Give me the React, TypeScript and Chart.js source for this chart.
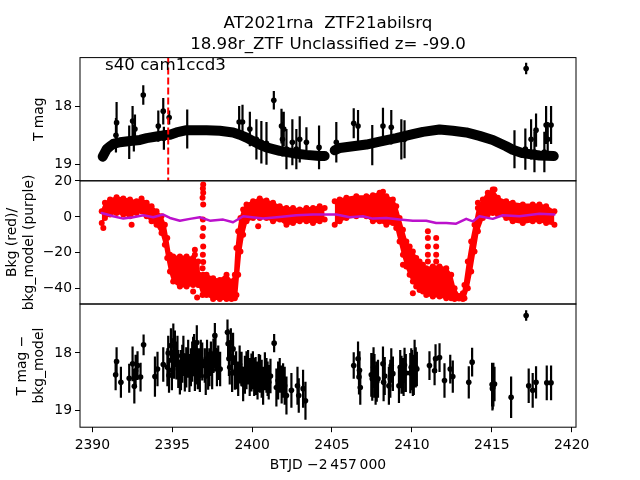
import React, { useEffect, useRef } from "react";
import { Chart, registerables } from "chart.js";

Chart.register(...registerables);

// ---------------- text ----------------
const titleLines = ["AT2021rna  ZTF21abilsrq", "18.98r_ZTF Unclassified z= -99.0"];
const sectorLabel = "s40 cam1ccd3";
const xLabel = "BTJD \u22122\u2009457\u2009000";
const yLabel1 = ["T mag"];
const yLabel2 = ["Bkg (red)/", "bkg_model (purple)"];
const yLabel3 = ["T mag \u2212", "bkg_model"];

// ---------------- axes ----------------
const xTicks = [2390, 2395, 2400, 2405, 2410, 2415, 2420];
const magTicks = [18, 19];
const bkgTicks = [20, 0, -20, -40];
const X_RANGE = [2389.23, 2420.27];
const MAG_RANGE = [17.15, 19.29];
const BKG_RANGE = [-48.5, 20.1];
const markerX = 2394.75;

// ---------------- panel 1: light curve ----------------
const band1X = [2390.65, 2390.90, 2391.11, 2391.31, 2391.73, 2392.36, 2392.98, 2393.40, 2394.02, 2394.44, 2394.86, 2395.27, 2395.90, 2396.52, 2397.15, 2397.98, 2398.81, 2399.23, 2399.65, 2400.06, 2400.48, 2400.90, 2401.31, 2401.73, 2402.56, 2403.40, 2404.23, 2404.54];
const band1Mag = [18.87, 18.74, 18.69, 18.65, 18.62, 18.60, 18.58, 18.55, 18.52, 18.50, 18.49, 18.45, 18.41, 18.41, 18.41, 18.42, 18.45, 18.49, 18.54, 18.60, 18.66, 18.71, 18.74, 18.77, 18.81, 18.84, 18.86, 18.86];
const band2X = [2405.17, 2405.48, 2406.31, 2407.15, 2407.98, 2409.02, 2410.06, 2410.69, 2411.73, 2412.56, 2413.40, 2414.23, 2415.06, 2415.90, 2416.31, 2416.94, 2417.98, 2418.88];
const band2Mag = [18.76, 18.72, 18.69, 18.66, 18.61, 18.55, 18.48, 18.44, 18.40, 18.42, 18.45, 18.51, 18.58, 18.69, 18.75, 18.81, 18.85, 18.86];

const p1X = [2391.48, 2391.52, 2392.31, 2392.52, 2392.60, 2392.67, 2393.19, 2394.13, 2394.44, 2394.48, 2394.81, 2395.94, 2399.19, 2399.40, 2399.86, 2400.27, 2400.58, 2400.90, 2401.36, 2401.84, 2401.90, 2401.98, 2402.15, 2402.52, 2402.77, 2402.98, 2403.40, 2404.19, 2405.27, 2406.36, 2406.63, 2407.52, 2408.19, 2408.71, 2409.34, 2409.54, 2416.42, 2417.10, 2417.15, 2417.46, 2417.67, 2417.77, 2418.29, 2418.40, 2418.50, 2418.71];
const p1Mag = [18.50, 18.28, 18.62, 18.25, 18.55, 18.39, 17.80, 18.34, 18.08, 18.55, 18.19, 18.39, 18.27, 18.27, 18.39, 18.57, 18.62, 18.64, 17.89, 18.34, 18.57, 18.39, 18.74, 18.62, 18.74, 18.57, 18.62, 18.71, 18.62, 18.29, 18.34, 18.67, 18.34, 18.36, 18.57, 18.57, 18.74, 18.74, 17.34, 18.57, 18.79, 18.41, 18.79, 18.32, 18.57, 18.32];
const p1Err = [0.30, 0.36, 0.29, 0.26, 0.23, 0.25, 0.17, 0.27, 0.23, 0.20, 0.12, 0.34, 0.28, 0.30, 0.30, 0.35, 0.37, 0.37, 0.16, 0.30, 0.30, 0.30, 0.35, 0.40, 0.35, 0.40, 0.26, 0.38, 0.35, 0.26, 0.28, 0.35, 0.32, 0.30, 0.35, 0.33, 0.33, 0.36, 0.10, 0.35, 0.35, 0.29, 0.35, 0.33, 0.30, 0.33];

// ---------------- panel 2: background ----------------
const env1X = [2390.59, 2390.79, 2391.11, 2391.52, 2391.94, 2392.36, 2392.77, 2393.08, 2393.40, 2393.71, 2394.02, 2394.33, 2394.54, 2394.69, 2394.86, 2395.06, 2395.48, 2395.90, 2396.31, 2396.63, 2396.69, 2396.90, 2397.15, 2397.56, 2397.98, 2398.40, 2398.71, 2398.92, 2399.02, 2399.13, 2399.27, 2399.44, 2399.65, 2400.06, 2400.48, 2400.90, 2401.31, 2401.73, 2402.15, 2402.56, 2402.98, 2403.40, 2403.81, 2404.23, 2404.54];
const env1Hi = [3.15, 7.81, 9.68, 10.98, 10.23, 9.68, 8.74, 10.23, 7.81, 5.95, 3.15, 0.35, -4.31, -11.76, -21.08, -22.02, -22.02, -22.02, -22.95, -24.81, -32.27, -34.14, -32.27, -34.14, -35.07, -32.27, -36.0, -32.27, -17.35, -8.04, -0.58, 4.08, 6.88, 8.74, 10.23, 9.12, 7.81, 5.95, 5.02, 5.02, 4.08, 5.02, 5.02, 5.95, 5.02];
const env1Lo = [-3.37, -0.58, 1.29, 2.22, 1.29, 0.35, 2.22, 3.15, 0.35, -2.44, -4.31, -8.97, -15.49, -22.95, -30.41, -36.0, -38.8, -38.8, -37.86, -37.86, -37.86, -43.46, -43.46, -45.69, -45.69, -45.69, -45.69, -45.32, -43.46, -32.27, -19.22, -9.9, -2.44, -0.58, -0.58, -0.58, -2.44, -1.51, -4.31, -3.37, -2.44, -2.44, -3.37, -2.44, -1.51];
const env2X = [2405.17, 2405.48, 2405.90, 2406.52, 2407.15, 2407.56, 2407.98, 2408.40, 2408.81, 2409.02, 2409.23, 2409.44, 2409.65, 2409.86, 2410.06, 2410.27, 2410.48, 2410.69, 2410.90, 2411.31, 2411.73, 2412.15, 2412.46, 2412.67, 2412.95, 2413.19, 2413.29, 2413.50, 2413.71, 2413.92, 2414.13, 2414.44, 2414.75, 2415.06, 2415.38, 2415.90, 2416.31, 2416.94, 2417.56, 2417.98, 2418.40, 2418.92];
const env2Hi = [8.74, 9.68, 10.61, 11.54, 11.54, 12.1, 13.41, 11.54, 9.68, 5.95, -0.58, -7.1, -13.63, -16.42, -19.22, -22.95, -24.81, -26.68, -28.54, -27.61, -27.61, -28.54, -32.27, -39.73, -44.0, -42.52, -37.86, -24.81, -13.63, -4.31, 5.02, 9.68, 13.41, 15.27, 10.61, 8.74, 7.81, 6.88, 6.88, 6.88, 5.95, 3.15];
const env2Lo = [-4.31, -2.44, -0.58, 0.35, 0.35, -2.44, -2.44, -4.31, -3.37, -6.17, -13.63, -21.08, -27.61, -32.27, -36.0, -38.8, -40.66, -41.59, -43.46, -44.39, -44.39, -45.32, -45.32, -45.69, -45.5, -45.69, -45.32, -39.73, -30.41, -19.22, -8.04, -0.58, 1.29, 2.22, 1.29, -0.58, -2.44, -3.37, -2.44, -2.44, -3.37, -4.31];
const redX = [2390.69, 2392.46, 2396.31, 2396.42, 2396.42, 2396.56, 2396.94, 2396.92, 2396.94, 2396.90, 2396.94, 2396.92, 2396.94, 2396.90, 2396.94, 2396.92, 2396.94, 2396.90, 2396.94, 2400.38, 2408.19, 2409.44, 2410.06, 2411.00, 2411.00, 2411.00, 2411.00, 2411.00, 2411.52, 2411.52, 2411.52, 2411.52, 2414.13, 2415.17];
const redV = [-6.17, -4.31, -41.59, -18.29, -21.08, -44.95, 18.06, 15.83, 13.41, 10.61, 6.88, -1.51, -6.17, -10.83, -16.42, -21.08, -25.18, -28.54, -32.27, -5.24, 14.0, -26.68, -42.52, -8.04, -11.76, -16.42, -21.08, -24.81, -11.76, -16.42, -21.08, -24.81, 7.81, 15.27];
const purpX = [2390.59, 2391.31, 2391.94, 2392.56, 2393.19, 2393.81, 2394.44, 2394.86, 2395.48, 2396.11, 2396.73, 2397.36, 2398.19, 2398.81, 2399.44, 2400.69, 2401.73, 2402.77, 2403.81, 2404.54, 2405.27, 2406.11, 2406.94, 2407.56, 2408.40, 2409.23, 2410.06, 2410.90, 2411.52, 2412.15, 2412.77, 2413.40, 2413.81, 2414.23, 2415.06, 2415.69, 2416.73, 2417.98, 2418.92];
const purpV = [2.2, 0.35, -0.95, -0.2, 0.9, -0.2, 1.3, -0.6, -2.1, -1.1, -0.2, -2.1, -1.5, -3.0, 0.35, -0.95, 0.0, 0.9, 1.3, 1.3, 1.3, -0.2, 0.35, -0.95, -0.6, -1.5, -2.1, -2.1, -3.4, -3.4, -3.8, -1.1, -2.5, 0.35, -1.1, 0.9, 0.35, 1.7, 1.3];

// ---------------- panel 3: T mag - bkg_model ----------------
const p3X = [2391.46, 2391.52, 2391.79, 2392.31, 2392.52, 2392.63, 2392.71, 2392.83, 2393.02, 2393.21,
  2393.92, 2394.08, 2394.44, 2394.75, 2394.80, 2394.92, 2395.07, 2395.17, 2395.27, 2395.38,
  2395.48, 2395.63, 2395.79, 2396.00, 2396.17, 2396.31, 2396.42, 2396.54, 2396.67, 2396.79,
  2397.04, 2397.25, 2397.42, 2397.67, 2397.71, 2397.88, 2398.00, 2398.46, 2398.50, 2398.60,
  2398.67, 2398.81, 2398.92, 2399.13, 2399.34, 2399.44, 2399.75, 2399.96, 2400.13, 2400.34,
  2400.50, 2400.69, 2400.90, 2401.04, 2401.38, 2401.52, 2401.73, 2401.94, 2402.04, 2402.15,
  2402.46, 2402.84, 2402.92, 2403.19, 2403.34,
  2394.70, 2394.98, 2395.12, 2395.33, 2395.55, 2395.70, 2395.88, 2396.08, 2396.25, 2396.37,
  2396.48, 2396.60, 2396.73, 2396.88, 2397.10, 2397.18, 2397.33, 2397.50, 2397.58, 2397.80,
  2398.55, 2398.75, 2399.00, 2399.22, 2399.55, 2399.65, 2399.85, 2400.05, 2400.22, 2400.42,
  2400.60, 2400.80, 2400.97, 2401.15, 2401.63, 2401.85,
  2406.36, 2406.63, 2406.69, 2406.77, 2407.46, 2407.60, 2407.73, 2407.88, 2408.19, 2408.23,
  2408.56, 2408.71, 2408.81, 2409.19, 2409.27, 2409.48, 2409.54, 2409.96, 2410.06, 2410.17,
  2410.31, 2411.10, 2411.42, 2411.48, 2411.73, 2412.04, 2412.40, 2412.56, 2413.56, 2413.77,
  2415.02, 2415.06, 2415.17, 2416.21, 2417.15, 2417.31, 2417.56, 2417.77, 2418.44, 2418.71,
  2406.72, 2407.52, 2407.66, 2407.80, 2408.30, 2408.65, 2409.35, 2409.62, 2409.90, 2410.01,
  2410.12, 2410.24, 2415.04, 2415.10];
const p3Mag = [18.38, 18.15, 18.51, 18.44, 18.19, 18.58, 18.31, 18.22, 18.42, 17.86,
  18.41, 18.28, 18.20, 18.00, 18.39, 17.87, 17.79, 17.93, 18.13, 18.28,
  18.42, 18.19, 18.34, 18.10, 18.25, 18.05, 18.36, 17.82, 18.22, 18.10,
  18.22, 18.31, 18.10, 17.70, 17.96, 18.17, 18.28, 17.64, 17.84, 18.25,
  17.82, 17.93, 18.34, 18.45, 18.28, 18.54, 18.25, 18.34, 18.42, 18.48,
  18.36, 18.57, 18.39, 18.51, 17.83, 18.60, 18.39, 18.48, 18.57, 18.74,
  18.65, 18.57, 18.74, 18.62, 18.83,
  18.25, 18.30, 18.10, 18.05, 18.30, 18.05, 18.25, 18.35, 18.15, 18.00,
  18.20, 18.30, 18.35, 18.15, 18.40, 18.10, 18.25, 18.30, 18.05, 18.28,
  18.10, 18.35, 18.30, 18.20, 18.38, 18.30, 18.42, 18.30, 18.40, 18.35,
  18.45, 18.32, 18.45, 18.40, 18.48, 18.55,
  18.22, 18.10, 18.42, 18.60, 18.38, 18.25, 18.57, 18.45, 18.19, 18.51,
  18.57, 18.22, 18.36, 18.57, 18.25, 18.42, 18.21, 18.25, 18.42, 18.10,
  18.28, 18.22, 18.31, 18.10, 18.08, 18.48, 18.28, 18.41, 18.51, 18.16,
  18.55, 18.60, 18.54, 18.77, 17.35, 18.57, 18.65, 18.51, 18.52, 18.52,
  18.30, 18.45, 18.40, 18.50, 18.40, 18.45, 18.38, 18.35, 18.35, 18.30,
  18.38, 18.25, 18.62, 18.55];
const p3Err = [0.27, 0.25, 0.27, 0.25, 0.30, 0.30, 0.28, 0.25, 0.25, 0.18,
  0.35, 0.30, 0.30, 0.30, 0.30, 0.30, 0.30, 0.32, 0.33, 0.33,
  0.30, 0.33, 0.33, 0.33, 0.33, 0.33, 0.30, 0.30, 0.30, 0.33,
  0.30, 0.33, 0.30, 0.22, 0.30, 0.30, 0.30, 0.22, 0.25, 0.30,
  0.25, 0.28, 0.30, 0.30, 0.30, 0.30, 0.30, 0.33, 0.33, 0.33,
  0.33, 0.33, 0.30, 0.30, 0.16, 0.33, 0.30, 0.30, 0.33, 0.33,
  0.30, 0.33, 0.30, 0.33, 0.33,
  0.33, 0.35, 0.35, 0.35, 0.35, 0.35, 0.35, 0.33, 0.35, 0.33,
  0.35, 0.33, 0.33, 0.33, 0.33, 0.33, 0.33, 0.33, 0.30, 0.30,
  0.30, 0.33, 0.33, 0.33, 0.33, 0.33, 0.33, 0.33, 0.33, 0.33,
  0.33, 0.33, 0.30, 0.30, 0.33, 0.33,
  0.23, 0.30, 0.30, 0.30, 0.38, 0.35, 0.33, 0.33, 0.30, 0.33,
  0.33, 0.30, 0.30, 0.30, 0.30, 0.33, 0.30, 0.33, 0.33, 0.33,
  0.30, 0.25, 0.25, 0.25, 0.25, 0.30, 0.25, 0.28, 0.28, 0.25,
  0.38, 0.38, 0.30, 0.36, 0.09, 0.30, 0.30, 0.28, 0.30, 0.30,
  0.33, 0.38, 0.38, 0.35, 0.33, 0.33, 0.33, 0.33, 0.35, 0.35,
  0.35, 0.35, 0.38, 0.38];

// ---------------- layout / style ----------------
const W = 640;
const H = 480;
const LEFT = 80;
const RIGHT = 576;
const PANEL_EDGES = [57.6, 180.8, 304, 427.2];
const FONT = "'DejaVu Sans', sans-serif";
const TICK_SIZE = 13.9;
const TITLE_SIZE = 16.67;
const PURPLE = "#bb11cc";

const pts = (xs: number[], ys: number[]) => xs.map((x, i) => ({ x, y: ys[i] }));
const fmt = (v: number) => (v < 0 ? "\u2212" + Math.abs(v) : String(v));

function errPlugin(xs: number[], ys: number[], es: number[]) {
  return {
    id: "errbars",
    beforeDatasetsDraw(chart: any) {
      const { ctx, chartArea: a, scales } = chart;
      const sx = scales.x;
      const sy = scales.y;
      ctx.save();
      ctx.beginPath();
      ctx.rect(a.left, a.top, a.right - a.left, a.bottom - a.top);
      ctx.clip();
      ctx.strokeStyle = "#000";
      ctx.lineWidth = 2.2;
      ctx.beginPath();
      xs.forEach((xv, i) => {
        const px = sx.getPixelForValue(xv);
        ctx.moveTo(px, sy.getPixelForValue(ys[i] - es[i]));
        ctx.lineTo(px, sy.getPixelForValue(ys[i] + es[i]));
      });
      ctx.stroke();
      ctx.restore();
    },
  };
}

function vText(ctx: CanvasRenderingContext2D, lines: string[], xs: number[], cy: number) {
  ctx.save();
  ctx.fillStyle = "#000";
  ctx.font = `${TICK_SIZE}px ${FONT}`;
  ctx.textAlign = "center";
  ctx.textBaseline = "middle";
  lines.forEach((t, i) => {
    ctx.save();
    ctx.translate(xs[i], cy);
    ctx.rotate(-Math.PI / 2);
    ctx.fillText(t, 0, 0);
    ctx.restore();
  });
  ctx.restore();
}

function decoPlugin(draw: (ctx: CanvasRenderingContext2D, chart: any) => void) {
  return {
    id: "deco",
    afterDraw(chart: any) {
      const { ctx, chartArea: a } = chart;
      ctx.save();
      ctx.strokeStyle = "#000";
      ctx.lineWidth = 1;
      ctx.strokeRect(a.left, a.top, a.right - a.left, a.bottom - a.top);
      ctx.restore();
      ctx.save();
      draw(ctx, chart);
      ctx.restore();
    },
  };
}

function makeConfig(p: {
  top: number;
  bottom: number;
  showX: boolean;
  yRange: number[];
  reverse: boolean;
  yTicks: number[];
  datasets: any[];
  plugins: any[];
}) {
  const grid = {
    drawOnChartArea: false,
    drawTicks: true,
    tickLength: 5,
    color: "#000",
    lineWidth: 1,
  };
  const tickFont = { family: FONT, size: TICK_SIZE };
  const xScale: any = {
    type: "linear",
    min: X_RANGE[0],
    max: X_RANGE[1],
    display: p.showX,
    afterBuildTicks: (s: any) => {
      s.ticks = xTicks.map((v) => ({ value: v }));
    },
    grid,
    border: { display: false },
    ticks: {
      autoSkip: false,
      maxRotation: 0,
      padding: 5,
      color: "#000",
      font: tickFont,
      callback: (v: number) => fmt(v),
    },
  };
  if (p.showX) {
    xScale.afterFit = (s: any) => {
      s.height = H - p.bottom;
    };
  }
  return {
    type: "line",
    data: { datasets: p.datasets },
    options: {
      animation: false,
      responsive: false,
      devicePixelRatio: 1,
      events: [],
      layout: {
        padding: { left: 0, right: W - RIGHT, top: p.top, bottom: p.showX ? 0 : H - p.bottom },
      },
      plugins: {
        legend: { display: false },
        tooltip: { enabled: false },
        title: { display: false },
      },
      scales: {
        x: xScale,
        y: {
          type: "linear",
          min: p.yRange[0],
          max: p.yRange[1],
          reverse: p.reverse,
          afterBuildTicks: (s: any) => {
            s.ticks = p.yTicks.map((v) => ({ value: v }));
          },
          afterFit: (s: any) => {
            s.width = LEFT;
          },
          grid,
          border: { display: false },
          ticks: {
            autoSkip: false,
            padding: 3,
            color: "#000",
            font: tickFont,
            callback: (v: number) => fmt(v),
          },
        },
      },
    },
    plugins: p.plugins,
  } as any;
}

const lineDs = (data: any[], color: string, width: number, extra: any = {}) => ({
  data,
  showLine: true,
  borderColor: color,
  backgroundColor: color,
  borderWidth: width,
  pointRadius: 0,
  pointBackgroundColor: color,
  pointBorderWidth: 0,
  fill: false,
  tension: 0,
  clip: 0,
  borderCapStyle: "round",
  borderJoinStyle: "round",
  ...extra,
});

const pointDs = (data: any[], color: string, r: number) => ({
  data,
  showLine: false,
  pointRadius: r,
  pointBackgroundColor: color,
  pointBorderColor: color,
  pointBorderWidth: 0,
  borderColor: color,
  backgroundColor: color,
  fill: false,
  clip: 0,
});

function config1() {
  return makeConfig({
    top: PANEL_EDGES[0],
    bottom: PANEL_EDGES[1],
    showX: false,
    yRange: MAG_RANGE,
    reverse: true,
    yTicks: magTicks,
    datasets: [
      lineDs(
        [
          { x: markerX, y: MAG_RANGE[0] },
          { x: markerX, y: MAG_RANGE[1] },
        ],
        "#ff0000",
        2,
        { borderDash: [7, 3], borderCapStyle: "butt" }
      ),
      pointDs(pts(p1X, p1Mag), "#000", 2.8),
      lineDs(pts(band1X, band1Mag), "#000", 10),
      lineDs(pts(band2X, band2Mag), "#000", 10),
    ],
    plugins: [
      errPlugin(p1X, p1Mag, p1Err),
      decoPlugin((ctx) => {
        ctx.fillStyle = "#000";
        ctx.font = `${TITLE_SIZE}px ${FONT}`;
        ctx.textAlign = "center";
        ctx.textBaseline = "alphabetic";
        const cx = (LEFT + RIGHT) / 2;
        ctx.fillText(titleLines[0], cx, 27.5);
        ctx.fillText(titleLines[1], cx, 49);
        ctx.textAlign = "left";
        ctx.fillText(sectorLabel, 105, 70);
        vText(ctx, yLabel1, [39], (PANEL_EDGES[0] + PANEL_EDGES[1]) / 2);
      }),
    ],
  });
}

function config2() {
  return makeConfig({
    top: PANEL_EDGES[1],
    bottom: PANEL_EDGES[2],
    showX: false,
    yRange: BKG_RANGE,
    reverse: false,
    yTicks: bkgTicks,
    datasets: [
      lineDs(pts(purpX, purpV), PURPLE, 2.5),
      pointDs(pts(redX, redV), "#ff0000", 3),
      lineDs(pts(env1X, env1Hi), "#ff0000", 2, { fill: "+1", pointRadius: 3 }),
      lineDs(pts(env1X, env1Lo), "#ff0000", 2, { pointRadius: 3 }),
      lineDs(pts(env2X, env2Hi), "#ff0000", 2, { fill: "+1", pointRadius: 3 }),
      lineDs(pts(env2X, env2Lo), "#ff0000", 2, { pointRadius: 3 }),
    ],
    plugins: [
      decoPlugin((ctx) => {
        vText(ctx, yLabel2, [12.5, 29], (PANEL_EDGES[1] + PANEL_EDGES[2]) / 2);
      }),
    ],
  });
}

function config3() {
  return makeConfig({
    top: PANEL_EDGES[2],
    bottom: PANEL_EDGES[3],
    showX: true,
    yRange: MAG_RANGE,
    reverse: true,
    yTicks: magTicks,
    datasets: [pointDs(pts(p3X, p3Mag), "#000", 2.8)],
    plugins: [
      errPlugin(p3X, p3Mag, p3Err),
      decoPlugin((ctx) => {
        vText(ctx, yLabel3, [22, 39], (PANEL_EDGES[2] + PANEL_EDGES[3]) / 2);
        ctx.fillStyle = "#000";
        ctx.font = `${TICK_SIZE}px ${FONT}`;
        ctx.textAlign = "center";
        ctx.textBaseline = "alphabetic";
        ctx.fillText(xLabel, (LEFT + RIGHT) / 2, 468.5);
      }),
    ],
  });
}

export default function App() {
  const r1 = useRef<HTMLCanvasElement | null>(null);
  const r2 = useRef<HTMLCanvasElement | null>(null);
  const r3 = useRef<HTMLCanvasElement | null>(null);

  useEffect(() => {
    const charts = [
      new Chart(r1.current as HTMLCanvasElement, config1()),
      new Chart(r2.current as HTMLCanvasElement, config2()),
      new Chart(r3.current as HTMLCanvasElement, config3()),
    ];
    return () => charts.forEach((c) => c.destroy());
  }, []);

  const cs: React.CSSProperties = { position: "absolute", left: 0, top: 0, width: W, height: H };
  return (
    <div style={{ position: "absolute", left: 0, top: 0, width: W, height: H, background: "#fff" }}>
      <canvas ref={r1} width={W} height={H} style={cs} />
      <canvas ref={r2} width={W} height={H} style={cs} />
      <canvas ref={r3} width={W} height={H} style={cs} />
    </div>
  );
}
